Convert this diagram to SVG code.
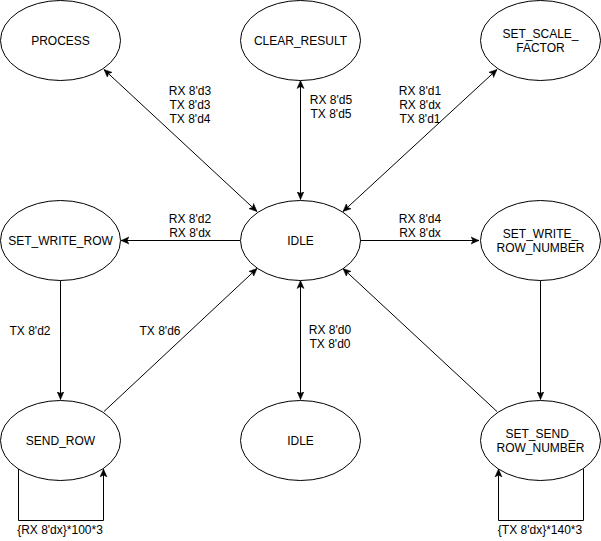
<svg xmlns="http://www.w3.org/2000/svg" width="601" height="541" viewBox="0 0 601 541">
<style>
.n ellipse{fill:#fff;stroke:#000;stroke-width:1}
text{font-family:"Liberation Sans",Arial,sans-serif;font-size:12px;fill:#000;text-anchor:middle}
.e path{fill:none;stroke:#000;stroke-width:1}
</style>
<defs>
<marker id="a" markerUnits="userSpaceOnUse" markerWidth="10" markerHeight="10" refX="8" refY="4" orient="auto-start-reverse" viewBox="0 0 10 8">
<path d="M0,0.5 L8,4 L0,7.5 L2,4 Z" fill="#000" stroke="#000" stroke-width="0.5"/>
</marker>
</defs>
<rect width="601" height="541" fill="#fff"/>
<g id="edges" class="e">
<path d="M104,69.5 L257,211.5" marker-start="url(#a)" marker-end="url(#a)"/>
<path d="M300.5,80.5 L300.5,199.5" marker-start="url(#a)" marker-end="url(#a)"/>
<path d="M497,69.5 L343,211.5" marker-start="url(#a)" marker-end="url(#a)"/>
<path d="M240,240.5 L121,240.5" marker-end="url(#a)"/>
<path d="M360,240.5 L479,240.5" marker-end="url(#a)"/>
<path d="M60.5,280.5 L60.5,399.5" marker-end="url(#a)"/>
<path d="M104,411.5 L257,268.5" marker-end="url(#a)"/>
<path d="M300.5,280.5 L300.5,399.5" marker-start="url(#a)" marker-end="url(#a)"/>
<path d="M540.5,280.5 L540.5,399.5" marker-end="url(#a)"/>
<path d="M497,411.5 L343,268.5" marker-end="url(#a)"/>
<path d="M18.5,469 L18.5,520.5 L103.5,520.5 L103.5,469" marker-end="url(#a)"/>
<path d="M583.5,469 L583.5,520.5 L498.5,520.5 L498.5,469" marker-end="url(#a)"/>
</g>
<g id="labels">
<text x="190" y="95">RX 8'd3</text>
<text x="190" y="109">TX 8'd3</text>
<text x="190" y="123">TX 8'd4</text>
<text x="331" y="104">RX 8'd5</text>
<text x="331" y="118">TX 8'd5</text>
<text x="420" y="95">RX 8'd1</text>
<text x="420" y="109">RX 8'dx</text>
<text x="420" y="123">TX 8'd1</text>
<text x="190" y="223">RX 8'd2</text>
<text x="190" y="237">RX 8'dx</text>
<text x="420" y="223">RX 8'd4</text>
<text x="420" y="237">RX 8'dx</text>
<text x="30" y="335">TX 8'd2</text>
<text x="160" y="335">TX 8'd6</text>
<text x="330" y="334">RX 8'd0</text>
<text x="330" y="348">TX 8'd0</text>
<text x="60" y="534">{RX 8'dx}*100*3</text>
<text x="540" y="534">{TX 8'dx}*140*3</text>
</g>
<g id="PROCESS" class="n"><ellipse cx="60.5" cy="40.5" rx="60" ry="40"/><text x="60.5" y="45">PROCESS</text></g>
<g id="CLEAR_RESULT" class="n"><ellipse cx="300.5" cy="40.5" rx="60" ry="40"/><text x="300.5" y="45">CLEAR_RESULT</text></g>
<g id="SET_SCALE_FACTOR" class="n"><ellipse cx="540.5" cy="40.5" rx="60" ry="40"/><text x="540.5" y="38">SET_SCALE_</text><text x="540.5" y="52">FACTOR</text></g>
<g id="SET_WRITE_ROW" class="n"><ellipse cx="60.5" cy="240.5" rx="60" ry="40"/><text x="60.5" y="245">SET_WRITE_ROW</text></g>
<g id="IDLE" class="n"><ellipse cx="300.5" cy="240.5" rx="60" ry="40"/><text x="300.5" y="245">IDLE</text></g>
<g id="SET_WRITE_ROW_NUMBER" class="n"><ellipse cx="540.5" cy="240.5" rx="60" ry="40"/><text x="540.5" y="238">SET_WRITE_</text><text x="540.5" y="252">ROW_NUMBER</text></g>
<g id="SEND_ROW" class="n"><ellipse cx="60.5" cy="440.5" rx="60" ry="40"/><text x="60.5" y="445">SEND_ROW</text></g>
<g id="IDLE_2" class="n"><ellipse cx="300.5" cy="440.5" rx="60" ry="40"/><text x="300.5" y="445">IDLE</text></g>
<g id="SET_SEND_ROW_NUMBER" class="n"><ellipse cx="540.5" cy="440.5" rx="60" ry="40"/><text x="540.5" y="438">SET_SEND_</text><text x="540.5" y="452">ROW_NUMBER</text></g>
</svg>
